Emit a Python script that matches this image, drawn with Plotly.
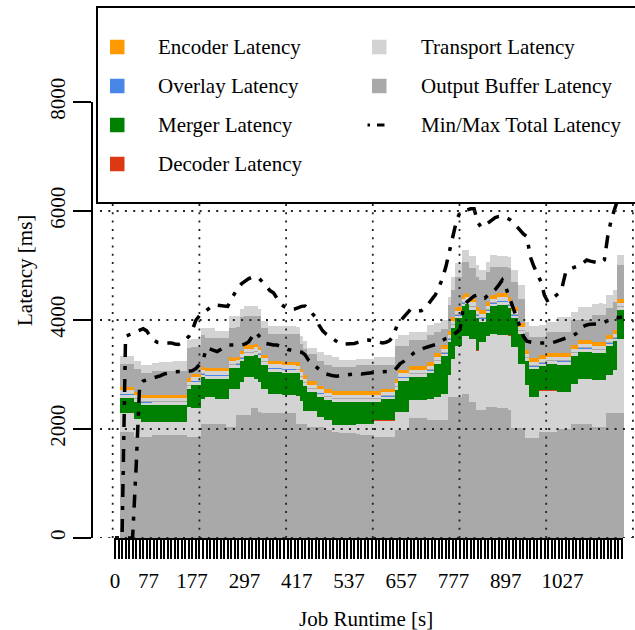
import plotly.graph_objects as go

# ---------------- data ----------------
sample_interval_s = 8.08
n_bars = 145
runtime_s = [round(i * sample_interval_s, 2) for i in range(n_bars)]

tick_times_s = [0, 77, 177, 297, 417, 537, 657, 777, 897, 1027]
tick_labels = [str(t) for t in tick_times_s]
latency_ticks_ms = [0, 2000, 4000, 6000, 8000]

# stacked pipeline stages, bottom to top
output_buffer_1_ms = [
    0, 0, 1950, 1950, 1950, 1950, 1860, 1860, 1860, 1860,
    1860, 1890, 1890, 1890, 1890, 1890, 1890, 1890, 1890, 1890,
    1890, 1860, 1860, 1860, 1860, 2100, 2100, 2100, 2100, 2100,
    2100, 2100, 2040, 2040, 2040, 2260, 2260, 2260, 2260, 2380,
    2380, 2320, 2300, 2300, 2290, 2290, 2290, 2290, 2290, 2290,
    2290, 2290, 2100, 2100, 2100, 2040, 2040, 2040, 2040, 2040,
    1980, 1980, 1950, 1950, 1930, 1930, 1930, 1930, 1930, 1900,
    1890, 1890, 1890, 1890, 1860, 1860, 1860, 1860, 1860, 1860,
    1980, 1980, 1980, 1980, 2200, 2200, 2200, 2200, 2200, 2165,
    2165, 2165, 2165, 2165, 2165, 2590, 2590, 2590, 2590, 2650,
    2650, 2500, 2500, 2350, 2350, 2350, 2410, 2410, 2410, 2380,
    2380, 2380, 2350, 2010, 2010, 2010, 2010, 1830, 1830, 1830,
    1830, 1950, 1950, 1950, 1950, 1950, 2000, 2000, 2000, 2000,
    2100, 2100, 2100, 2100, 2100, 2100, 2040, 2040, 2040, 2040,
    2290, 2290, 2290, 2290, 2290]

transport_1_ms = [
    0, 0, 345, 345, 345, 345, 325, 325, 265, 265,
    265, 235, 235, 235, 235, 235, 235, 235, 235, 235,
    235, 540, 530, 530, 530, 450, 480, 480, 480, 450,
    450, 450, 510, 690, 690, 480, 600, 690, 690, 570,
    540, 540, 435, 435, 355, 355, 355, 355, 325, 325,
    325, 325, 510, 420, 235, 295, 295, 295, 175, 175,
    185, 185, 120, 120, 140, 140, 140, 140, 140, 195,
    205, 205, 205, 205, 295, 295, 295, 295, 295, 295,
    330, 330, 330, 330, 325, 325, 325, 325, 325, 390,
    390, 425, 425, 480, 480, 400, 700, 940, 940, 1060,
    1060, 1150, 1150, 1090, 1240, 1240, 1300, 1335, 1335, 1350,
    1350, 1350, 1365, 1490, 1490, 1185, 1185, 970, 755, 755,
    755, 755, 755, 755, 755, 755, 675, 675, 675, 675,
    725, 725, 815, 815, 815, 815, 860, 860, 860, 860,
    695, 695, 785, 1365, 1365]

decoder_ms = [
    0, 0, 2, 2, 2, 3, 2, 2, 2, 2,
    2, 2, 2, 2, 3, 2, 2, 2, 2, 2,
    2, 2, 3, 2, 2, 2, 2, 2, 2, 2,
    2, 2, 2, 3, 2, 2, 2, 2, 2, 2,
    2, 2, 2, 2, 2, 2, 3, 2, 2, 2,
    2, 2, 2, 2, 2, 2, 2, 2, 2, 2,
    2, 2, 2, 2, 2, 3, 2, 2, 2, 2,
    2, 2, 2, 2, 2, 2, 2, 2, 2, 2,
    2, 2, 2, 2, 2, 2, 2, 3, 2, 2,
    2, 2, 2, 2, 2, 2, 2, 2, 2, 3,
    2, 2, 2, 2, 2, 2, 2, 2, 2, 2,
    2, 2, 3, 2, 2, 2, 2, 2, 2, 2,
    2, 2, 2, 2, 2, 2, 2, 2, 2, 2,
    2, 2, 2, 2, 2, 2, 2, 2, 3, 2,
    2, 2, 2, 2, 2]

merger_ms = [
    0, 0, 275, 275, 275, 275, 305, 305, 305, 305,
    305, 310, 310, 310, 310, 310, 310, 310, 310, 310,
    310, 330, 420, 420, 420, 395, 340, 340, 340, 370,
    370, 370, 370, 385, 385, 385, 380, 390, 390, 390,
    440, 450, 435, 435, 405, 405, 405, 405, 415, 415,
    415, 415, 415, 380, 450, 340, 340, 340, 375, 375,
    365, 365, 425, 425, 425, 425, 425, 425, 425, 400,
    395, 395, 395, 395, 335, 335, 385, 385, 385, 385,
    405, 575, 575, 575, 425, 425, 425, 425, 425, 465,
    465, 600, 600, 685, 685, 600, 560, 500, 500, 535,
    575, 535, 535, 590, 380, 380, 410, 505, 505, 550,
    550, 550, 495, 530, 530, 545, 545, 445, 505, 505,
    505, 440, 440, 485, 485, 485, 505, 505, 505, 505,
    510, 510, 505, 505, 505, 505, 490, 490, 490, 490,
    530, 530, 530, 525, 525]

transport_2_ms = [
    0, 0, 55, 55, 55, 55, 50, 50, 50, 50,
    50, 50, 50, 50, 50, 50, 50, 50, 50, 50,
    50, 50, 50, 50, 50, 50, 50, 50, 50, 50,
    50, 50, 50, 50, 50, 50, 50, 50, 50, 50,
    50, 50, 50, 50, 50, 50, 50, 50, 50, 50,
    50, 50, 50, 50, 50, 50, 50, 50, 50, 50,
    50, 50, 50, 50, 50, 50, 50, 50, 50, 50,
    50, 50, 50, 50, 50, 50, 50, 50, 50, 50,
    50, 50, 50, 50, 50, 50, 50, 50, 50, 50,
    50, 50, 50, 50, 50, 50, 50, 50, 50, 50,
    50, 50, 50, 50, 50, 50, 50, 50, 50, 50,
    50, 50, 50, 50, 50, 50, 50, 50, 50, 50,
    50, 50, 50, 50, 50, 50, 50, 50, 50, 50,
    50, 50, 50, 50, 50, 50, 50, 50, 50, 50,
    50, 50, 50, 50, 50]

overlay_ms = [
    0, 0, 10, 10, 10, 10, 10, 10, 10, 10,
    10, 10, 10, 10, 10, 10, 10, 10, 10, 10,
    10, 10, 10, 10, 10, 10, 10, 10, 10, 10,
    10, 10, 10, 10, 10, 10, 10, 10, 10, 10,
    10, 10, 10, 10, 10, 10, 10, 10, 10, 10,
    10, 10, 10, 10, 10, 10, 10, 10, 10, 10,
    10, 10, 10, 10, 10, 10, 10, 10, 10, 10,
    10, 10, 10, 10, 10, 10, 10, 10, 10, 10,
    10, 10, 10, 10, 10, 10, 10, 10, 10, 10,
    10, 10, 10, 10, 10, 10, 10, 10, 10, 10,
    10, 10, 10, 10, 10, 10, 10, 10, 10, 10,
    10, 10, 10, 10, 10, 10, 10, 10, 10, 10,
    10, 10, 10, 10, 10, 10, 10, 10, 10, 10,
    10, 10, 10, 10, 10, 10, 10, 10, 10, 10,
    10, 10, 10, 10, 10]

output_buffer_2_ms = [
    0, 0, 10, 10, 10, 10, 15, 15, 15, 15,
    15, 15, 15, 15, 15, 15, 15, 15, 15, 15,
    15, 15, 15, 15, 15, 15, 15, 15, 15, 15,
    15, 15, 15, 15, 15, 15, 15, 15, 15, 15,
    15, 15, 15, 15, 15, 15, 15, 15, 15, 15,
    15, 15, 15, 15, 15, 15, 15, 15, 15, 15,
    15, 15, 15, 15, 15, 15, 15, 15, 15, 15,
    15, 15, 15, 15, 15, 15, 15, 15, 15, 15,
    15, 15, 15, 15, 15, 15, 15, 15, 15, 15,
    15, 15, 15, 15, 15, 15, 15, 15, 15, 15,
    15, 15, 15, 15, 15, 15, 15, 15, 15, 15,
    15, 15, 15, 15, 15, 15, 15, 15, 15, 15,
    15, 15, 15, 15, 15, 15, 15, 15, 15, 15,
    15, 15, 15, 15, 15, 15, 15, 15, 15, 15,
    15, 15, 15, 15, 15]

transport_3_ms = [
    0, 0, 60, 60, 60, 60, 60, 60, 60, 60,
    60, 60, 60, 60, 60, 60, 60, 60, 60, 60,
    60, 60, 60, 60, 60, 60, 60, 60, 60, 60,
    60, 60, 60, 60, 60, 60, 60, 60, 60, 60,
    60, 60, 60, 60, 60, 60, 60, 60, 60, 60,
    60, 60, 60, 60, 60, 60, 60, 60, 60, 60,
    60, 60, 60, 60, 60, 60, 60, 60, 60, 60,
    60, 60, 60, 60, 60, 60, 60, 60, 60, 60,
    60, 60, 60, 60, 60, 60, 60, 60, 60, 60,
    60, 60, 60, 60, 60, 60, 60, 60, 60, 60,
    60, 60, 60, 60, 60, 60, 60, 60, 60, 60,
    60, 60, 60, 60, 60, 60, 60, 60, 60, 60,
    60, 60, 60, 60, 60, 60, 60, 60, 60, 60,
    60, 60, 60, 60, 60, 60, 60, 60, 60, 60,
    60, 60, 60, 60, 60]

encoder_ms = [
    0, 0, 55, 55, 55, 55, 55, 55, 50, 50,
    50, 55, 55, 55, 55, 55, 55, 55, 55, 55,
    55, 60, 60, 60, 60, 60, 60, 60, 60, 60,
    60, 60, 60, 60, 60, 60, 60, 65, 65, 65,
    65, 65, 60, 60, 60, 60, 60, 60, 60, 60,
    60, 60, 60, 60, 60, 60, 60, 60, 60, 60,
    60, 60, 65, 65, 65, 65, 65, 65, 65, 65,
    65, 65, 65, 65, 65, 65, 65, 65, 65, 65,
    65, 65, 65, 65, 65, 65, 65, 65, 65, 70,
    70, 70, 70, 70, 70, 70, 70, 70, 70, 70,
    70, 70, 70, 70, 70, 70, 70, 70, 70, 70,
    70, 70, 70, 70, 70, 70, 70, 70, 70, 70,
    70, 70, 70, 70, 70, 70, 70, 70, 70, 70,
    70, 70, 70, 70, 70, 70, 70, 70, 70, 70,
    70, 70, 70, 70, 70]

output_buffer_3_ms = [
    0, 0, 425, 425, 425, 425, 415, 415, 410, 410,
    410, 435, 435, 435, 435, 435, 435, 435, 435, 435,
    435, 560, 490, 490, 490, 585, 560, 560, 560, 560,
    560, 560, 560, 545, 545, 545, 625, 525, 525, 525,
    505, 555, 495, 495, 495, 495, 495, 495, 515, 515,
    515, 515, 515, 460, 480, 500, 500, 500, 465, 465,
    440, 440, 440, 440, 440, 440, 440, 440, 440, 470,
    475, 475, 475, 475, 475, 475, 425, 425, 425, 425,
    615, 445, 445, 445, 475, 475, 475, 475, 475, 495,
    495, 390, 390, 305, 305, 475, 490, 555, 555, 610,
    570, 565, 565, 555, 555, 555, 550, 520, 520, 490,
    490, 490, 530, 465, 465, 445, 445, 335, 400, 400,
    400, 335, 335, 385, 385, 385, 400, 400, 400, 400,
    450, 450, 365, 365, 365, 365, 490, 490, 490, 490,
    495, 495, 525, 620, 620]

transport_4_ms = [
    0, 0, 150, 150, 150, 150, 155, 155, 140, 140,
    140, 155, 155, 165, 165, 165, 165, 185, 185, 185,
    185, 150, 150, 150, 150, 135, 170, 170, 170, 120,
    120, 120, 120, 215, 215, 215, 140, 185, 185, 185,
    185, 140, 125, 125, 155, 155, 155, 155, 140, 140,
    140, 140, 140, 150, 155, 120, 120, 120, 170, 170,
    195, 195, 185, 185, 125, 125, 125, 125, 125, 120,
    120, 120, 120, 120, 155, 155, 155, 155, 155, 155,
    120, 185, 185, 185, 155, 155, 155, 155, 155, 185,
    185, 160, 160, 155, 155, 155, 250, 245, 245, 215,
    215, 225, 225, 215, 185, 185, 185, 215, 215, 200,
    200, 200, 215, 215, 215, 245, 245, 185, 185, 185,
    185, 215, 215, 185, 185, 185, 275, 275, 275, 275,
    155, 155, 245, 245, 245, 245, 215, 215, 215, 215,
    245, 245, 215, 185, 185]

max_total_ms = [
    0, 0, 0, 3700, 3730, 3760, 3786, 3810, 3840, 3800,
    3700, 3630, 3590, 3580, 3580, 3590, 3580, 3560, 3550, 3580,
    3640, 3700, 3820, 4000, 4080, 4130, 4180, 4230, 4275, 4270,
    4260, 4250, 4250, 4380, 4500, 4600, 4670, 4720, 4760, 4790,
    4790, 4760, 4700, 4620, 4540, 4500, 4400, 4300, 4250, 4220,
    4190, 4200, 4230, 4250, 4257, 4200, 4120, 4050, 3900, 3800,
    3740, 3694, 3640, 3600, 3560, 3560, 3560, 3560, 3570, 3590,
    3610, 3625, 3633, 3620, 3600, 3590, 3580, 3590, 3620, 3700,
    3880, 3980, 4050, 4140, 4200, 4190, 4170, 4170, 4230, 4290,
    4380, 4460, 4600, 4760, 4980, 5250, 5550, 5820, 5980, 6000,
    6020, 6040, 6040, 5800, 5700, 5730, 5780, 5840, 5880, 5900,
    5900, 5880, 5850, 5800, 5720, 5660, 5580, 5530, 5150, 4980,
    4830, 4700, 4450, 4330, 4380, 4440, 4490, 4600, 4870, 4930,
    4960, 4980, 5000, 5050, 5100, 5080, 5070, 5060, 5040, 5100,
    5550, 5850, 6050, 6250, 6450]

min_total_ms = [
    0, 0, 0, 0, 0, 0, 1300, 2800, 2880, 2900,
    2910, 2930, 2950, 2980, 3010, 3030, 3040, 3050, 3050, 3050,
    3050, 3060, 3070, 3110, 3180, 3260, 3490, 3470, 3440, 3420,
    3460, 3500, 3540, 3540, 3540, 3540, 3540, 3560, 3600, 3700,
    3780, 3700, 3620, 3570, 3550, 3540, 3540, 3520, 3490, 3460,
    3440, 3430, 3420, 3410, 3360, 3260, 3200, 3140, 3080, 3040,
    3010, 2990, 2975, 2970, 2980, 2990, 3000, 3000, 3010, 3020,
    3010, 3020, 3030, 3040, 3050, 3050, 3050, 3050, 3050, 3060,
    3120, 3200, 3240, 3300, 3360, 3400, 3440, 3470, 3490, 3510,
    3530, 3550, 3590, 3630, 3660, 3680, 3720, 3770, 3830, 4250,
    4330, 4380, 4440, 4460, 4420, 4400, 4450, 4500, 4560, 4640,
    4730, 4600, 4420, 4280, 4100, 3900, 3700, 3610, 3590, 3580,
    3580, 3580, 3580, 3580, 3580, 3600, 3620, 3640, 3660, 3680,
    3710, 3750, 3800, 3880, 3910, 3920, 3930, 3930, 3930, 3960,
    4000, 4030, 4050, 4040, 4060]

# ---------------- styling / layout calibration ----------------
W, H = 635, 630
ML, MT, MB = 92, 102, 92
PW, PH = W - ML, H - MT - MB
BASE = H - MB
X0_PX, PX_PER_S = 115.0, 0.4357


def t_at(px):
    return (px - X0_PX) / PX_PER_S


def fx(px):
    return (px - ML) / PW


def fy(py):
    return (BASE - py) / PH


FONT = "Liberation Serif"
LIGHT = (211, 211, 211)
DARK = (169, 169, 169)
ORANGE = (255, 153, 0)
BLUE = (74, 134, 232)
GREEN = (0, 128, 0)
RED = (220, 57, 18)


def rgba(c, a=0.999):
    return "rgba(%d,%d,%d,%s)" % (c[0], c[1], c[2], a)


def hexc(c):
    return "#%02X%02X%02X" % c


stack = [
    (output_buffer_1_ms, DARK, "Output Buffer Latency"),
    (transport_1_ms, LIGHT, "Transport Latency"),
    (decoder_ms, RED, "Decoder Latency"),
    (merger_ms, GREEN, "Merger Latency"),
    (transport_2_ms, LIGHT, "Transport Latency"),
    (overlay_ms, BLUE, "Overlay Latency"),
    (output_buffer_2_ms, DARK, "Output Buffer Latency"),
    (transport_3_ms, LIGHT, "Transport Latency"),
    (encoder_ms, ORANGE, "Encoder Latency"),
    (output_buffer_3_ms, DARK, "Output Buffer Latency"),
    (transport_4_ms, LIGHT, "Transport Latency"),
]
for vals, _, nm in stack:
    if len(vals) != n_bars:
        raise ValueError("%s has %d values" % (nm, len(vals)))

fig = go.Figure()
for vals, col, nm in stack:
    fig.add_trace(go.Bar(
        x=runtime_s, y=vals, width=sample_interval_s, name=nm,
        marker=dict(color=rgba(col), line=dict(width=0)),
        showlegend=False, hoverinfo="skip"))

line_style = dict(color="black", width=3.5, dash="4px,9px,13px,9px")
for vals, nm in [(max_total_ms, "Max Total Latency"), (min_total_ms, "Min Total Latency")]:
    if len(vals) != n_bars:
        raise ValueError("%s has %d values" % (nm, len(vals)))
    fig.add_trace(go.Scatter(x=runtime_s, y=vals, mode="lines", name=nm,
                             line=line_style, showlegend=False, hoverinfo="skip"))

# empty trace that only registers the tick-comb axis (one tick per bar)
fig.add_trace(go.Scatter(x=[runtime_s[0], runtime_s[-1]], y=[None, None],
                         xaxis="x2", yaxis="y", mode="lines",
                         showlegend=False, hoverinfo="skip"))

grid_style = dict(color="#222222", width=1.8, dash="2px,6.3px")
shapes = []
for v in latency_ticks_ms:
    shapes.append(dict(type="line", xref="paper", yref="y", x0=fx(100), x1=1,
                       y0=v, y1=v, line=grid_style, layer="above"))
for px in (112.7, 199.4, 286.1, 372.8, 459.5, 546.2, 632.9):
    t = t_at(px)
    shapes.append(dict(type="line", xref="x", yref="paper", x0=t, x1=t,
                       y0=0, y1=1, line=grid_style, layer="above"))

# legend box
shapes.append(dict(type="rect", xref="paper", yref="paper",
                   x0=fx(97), x1=fx(650), y0=fy(203), y1=fy(7),
                   line=dict(color="black", width=2), fillcolor="white", layer="above"))

rows = [47, 86, 125, 164]
legend_left = [("Encoder Latency", ORANGE), ("Overlay Latency", BLUE),
               ("Merger Latency", GREEN), ("Decoder Latency", RED)]
legend_right = [("Transport Latency", LIGHT), ("Output Buffer Latency", DARK)]

annotations = []
for (label, col), ry in zip(legend_left, rows):
    shapes.append(dict(type="rect", xref="paper", yref="paper",
                       x0=fx(110), x1=fx(124.5), y0=fy(ry + 7.25), y1=fy(ry - 7.25),
                       fillcolor=hexc(col), line=dict(width=0), layer="above"))
    annotations.append(dict(text=label, xref="paper", yref="paper", x=fx(156), y=fy(ry),
                            xanchor="left", yanchor="middle", showarrow=False,
                            font=dict(family=FONT, size=21, color="black")))
for (label, col), ry in zip(legend_right, rows[:2]):
    shapes.append(dict(type="rect", xref="paper", yref="paper",
                       x0=fx(372), x1=fx(386.5), y0=fy(ry + 7.25), y1=fy(ry - 7.25),
                       fillcolor=hexc(col), line=dict(width=0), layer="above"))
    annotations.append(dict(text=label, xref="paper", yref="paper", x=fx(419), y=fy(ry),
                            xanchor="left", yanchor="middle", showarrow=False,
                            font=dict(family=FONT, size=21, color="black")))
ry = rows[2]
shapes.append(dict(type="rect", xref="paper", yref="paper",
                   x0=fx(367.5), x1=fx(370), y0=fy(ry + 1.5), y1=fy(ry - 1.5),
                   fillcolor="black", line=dict(width=0), layer="above"))
shapes.append(dict(type="rect", xref="paper", yref="paper",
                   x0=fx(377), x1=fx(384.5), y0=fy(ry + 1.5), y1=fy(ry - 1.5),
                   fillcolor="black", line=dict(width=0), layer="above"))
annotations.append(dict(text="Min/Max Total Latency", xref="paper", yref="paper",
                        x=fx(419), y=fy(ry), xanchor="left", yanchor="middle",
                        showarrow=False, font=dict(family=FONT, size=21, color="black")))

# axis titles
annotations.append(dict(text="Job Runtime [s]", xref="paper", yref="paper",
                        x=fx(366), y=fy(619), xanchor="center", yanchor="middle",
                        showarrow=False, font=dict(family=FONT, size=21, color="black")))
annotations.append(dict(text="Latency [ms]", xref="paper", yref="paper",
                        x=fx(25), y=fy(271), xanchor="center", yanchor="middle",
                        textangle=-90, showarrow=False,
                        font=dict(family=FONT, size=21, color="black")))

fig.update_layout(
    width=W, height=H,
    margin=dict(l=ML, r=0, t=MT, b=MB, pad=0),
    paper_bgcolor="white", plot_bgcolor="rgba(0,0,0,0)",
    barmode="stack", showlegend=False,
    font=dict(family=FONT, size=21, color="black"),
    xaxis=dict(domain=[fx(100), 1], range=[t_at(100), t_at(635)],
               tickmode="array", tickvals=tick_times_s, ticktext=tick_labels,
               ticks="", showline=False, showgrid=False, zeroline=False,
               ticklabelstandoff=28,
               tickfont=dict(family=FONT, size=21, color="black")),
    xaxis2=dict(domain=[fx(113.5), fx(623)], range=[t_at(113.5), t_at(623)],
                anchor="y", tickmode="array", tickvals=runtime_s,
                ticks="outside", ticklen=19, tickwidth=1.6, tickcolor="black",
                showline=True, linecolor="black", linewidth=1.6,
                showticklabels=False, showgrid=False, zeroline=False),
    yaxis=dict(domain=[0, 1], range=[0, 8000], anchor="free", position=0,
               tickmode="array", tickvals=latency_ticks_ms,
               ticks="outside", ticklen=18, tickwidth=2, tickcolor="black",
               showline=True, linecolor="black", linewidth=2,
               tickangle=-90, showgrid=False, zeroline=False,
               ticklabelstandoff=0,
               tickfont=dict(family=FONT, size=21, color="black")),
    shapes=shapes,
    annotations=annotations,
)

fig.write_html("out.html",
               config={"displayModeBar": False},
               post_script="document.body.style.margin='0px';document.body.style.padding='0px';")
